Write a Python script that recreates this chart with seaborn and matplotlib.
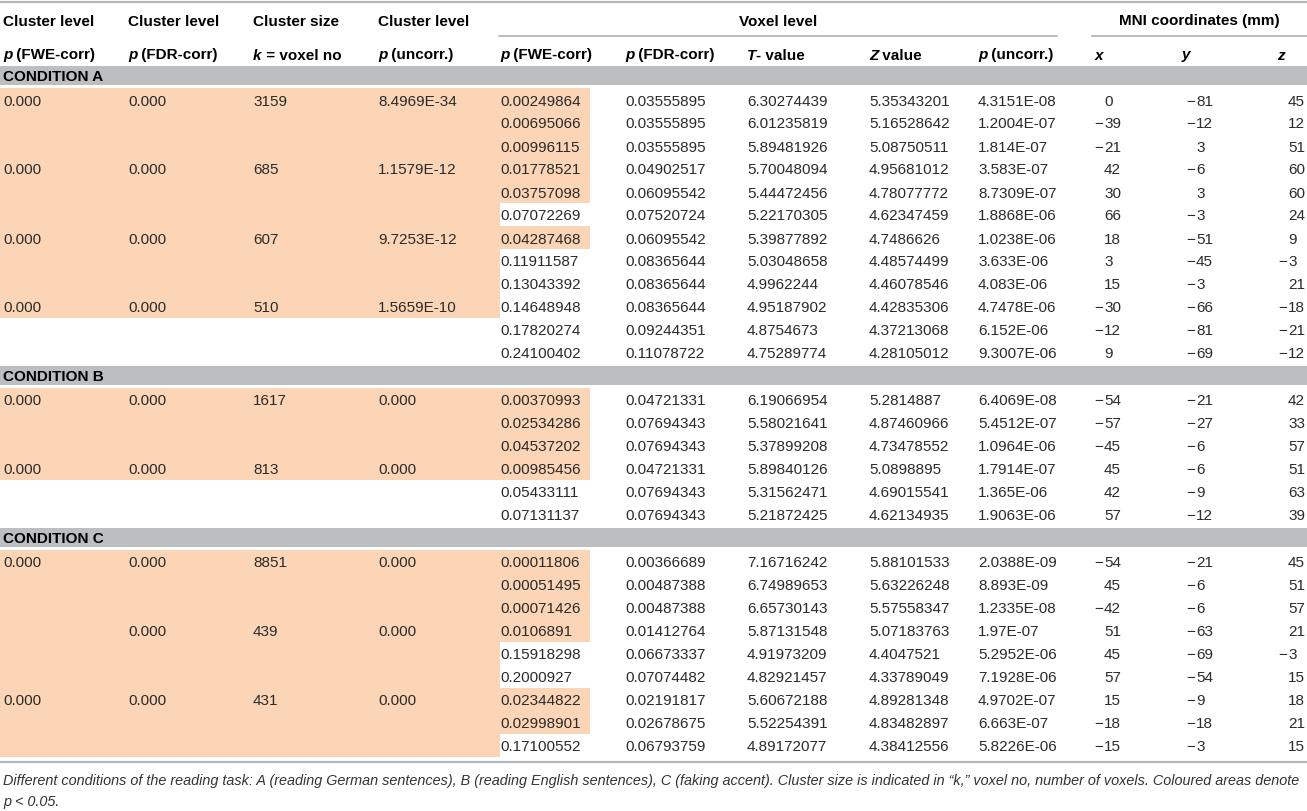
import matplotlib
matplotlib.use("Agg")
import matplotlib.pyplot as plt
from matplotlib.patches import Rectangle
import seaborn as sns

# ---------------- data ----------------
conditions = ["CONDITION A", "CONDITION B", "CONDITION C"]

# voxel level, one list per condition
fwe = [
    ["0.00249864", "0.00695066", "0.00996115", "0.01778521", "0.03757098", "0.07072269",
     "0.04287468", "0.11911587", "0.13043392", "0.14648948", "0.17820274", "0.24100402"],
    ["0.00370993", "0.02534286", "0.04537202", "0.00985456", "0.05433111", "0.07131137"],
    ["0.00011806", "0.00051495", "0.00071426", "0.0106891", "0.15918298", "0.2000927",
     "0.02344822", "0.02998901", "0.17100552"],
]
fdr = [
    ["0.03555895", "0.03555895", "0.03555895", "0.04902517", "0.06095542", "0.07520724",
     "0.06095542", "0.08365644", "0.08365644", "0.08365644", "0.09244351", "0.11078722"],
    ["0.04721331", "0.07694343", "0.07694343", "0.04721331", "0.07694343", "0.07694343"],
    ["0.00366689", "0.00487388", "0.00487388", "0.01412764", "0.06673337", "0.07074482",
     "0.02191817", "0.02678675", "0.06793759"],
]
t_val = [
    ["6.30274439", "6.01235819", "5.89481926", "5.70048094", "5.44472456", "5.22170305",
     "5.39877892", "5.03048658", "4.9962244", "4.95187902", "4.8754673", "4.75289774"],
    ["6.19066954", "5.58021641", "5.37899208", "5.89840126", "5.31562471", "5.21872425"],
    ["7.16716242", "6.74989653", "6.65730143", "5.87131548", "4.91973209", "4.82921457",
     "5.60672188", "5.52254391", "4.89172077"],
]
z_val = [
    ["5.35343201", "5.16528642", "5.08750511", "4.95681012", "4.78077772", "4.62347459",
     "4.7486626", "4.48574499", "4.46078546", "4.42835306", "4.37213068", "4.28105012"],
    ["5.2814887", "4.87460966", "4.73478552", "5.0898895", "4.69015541", "4.62134935"],
    ["5.88101533", "5.63226248", "5.57558347", "5.07183763", "4.4047521", "4.33789049",
     "4.89281348", "4.83482897", "4.38412556"],
]
p_unc = [
    ["4.3151E-08", "1.2004E-07", "1.814E-07", "3.583E-07", "8.7309E-07", "1.8868E-06",
     "1.0238E-06", "3.633E-06", "4.083E-06", "4.7478E-06", "6.152E-06", "9.3007E-06"],
    ["6.4069E-08", "5.4512E-07", "1.0964E-06", "1.7914E-07", "1.365E-06", "1.9063E-06"],
    ["2.0388E-09", "8.893E-09", "1.2335E-08", "1.97E-07", "5.2952E-06", "7.1928E-06",
     "4.9702E-07", "6.663E-07", "5.8226E-06"],
]
mni_x = [
    [0, -39, -21, 42, 30, 66, 18, 3, 15, -30, -12, 9],
    [-54, -57, -45, 45, 42, 57],
    [-54, 45, -42, 51, 45, 57, 15, -18, -15],
]
mni_y = [
    [-81, -12, 3, -6, 3, -3, -51, -45, -3, -66, -81, -69],
    [-21, -27, -6, -6, -9, -12],
    [-21, -6, -6, -63, -69, -54, -9, -18, -3],
]
mni_z = [
    [45, 12, 51, 60, 60, 24, 9, -3, 21, -18, -21, -12],
    [42, 33, 57, 51, 63, 39],
    [45, 51, 57, 21, -3, 15, 18, 21, 15],
]

# cluster level: (row, p FWE, p FDR, k, p uncorr)
clusters = [
    [(0, "0.000", "0.000", "3159", "8.4969E-34"),
     (3, "0.000", "0.000", "685", "1.1579E-12"),
     (6, "0.000", "0.000", "607", "9.7253E-12"),
     (9, "0.000", "0.000", "510", "1.5659E-10")],
    [(0, "0.000", "0.000", "1617", "0.000"),
     (3, "0.000", "0.000", "813", "0.000")],
    [(0, "0.000", "0.000", "8851", "0.000"),
     (3, "", "0.000", "439", "0.000"),
     (6, "0.000", "0.000", "431", "0.000")],
]
# number of rows whose cluster-level cells are coloured
cluster_shaded = [10, 4, 9]

header_top = ["Cluster level", "Cluster level", "Cluster size", "Cluster level"]
header_sub = [("p", " (FWE-corr)"), ("p", " (FDR-corr)"), ("k", " = voxel no"),
              ("p", " (uncorr.)"), ("p", " (FWE-corr)"), ("p", " (FDR-corr)"),
              ("T", "- value"), ("Z", " value"), ("p", " (uncorr.)"),
              ("x", ""), ("y", ""), ("z", "")]

caption = ["Different conditions of the reading task: A (reading German sentences), "
           "B (reading English sentences), C (faking accent). Cluster size is indicated "
           "in \u201ck,\u201d voxel no, number of voxels. Coloured areas denote",
           "p < 0.05."]

# ---------------- layout ----------------
W, H = 1307, 812
col_x = [3, 128, 253, 378, 500, 625, 747, 869, 978]
mni_digit_x = [1104, 1196, 1288]
row_h = 23
band_gap, band_h = 2.5, 19
first_block = 64.5
shade = "#fbd5b5"
band_col = "#bcbec0"
rule_col = "#b4b6b8"
txt_col = "#2b2b2b"
fs = 11

sns.set_theme(style="white")
plt.rcParams["font.family"] = ["Liberation Sans", "DejaVu Sans"]

fig = plt.figure(figsize=(W / 100, H / 100), dpi=100)
ax = fig.add_axes([0, 0, 1, 1])
ax.set_xlim(0, W)
ax.set_ylim(H, 0)
ax.axis("off")
renderer = fig.canvas.get_renderer()


def put(x, yc, s, **kw):
    kw.setdefault("color", txt_col)
    kw.setdefault("fontsize", fs)
    return ax.text(x, yc + 5.5, s, va="baseline", **kw)


def width_of(t):
    return t.get_window_extent(renderer).width


# header
ax.plot([0, W], [3, 3], color=rule_col, lw=1.6, solid_capstyle="butt")
for i, s in enumerate(header_top):
    put(col_x[i], 20, s, fontweight="bold", color="black")
put((499 + 1057) / 2, 20, "Voxel level", fontweight="bold", color="black", ha="center")
put((1092 + W) / 2, 20, "MNI coordinates (mm)", fontweight="bold", color="black", ha="center")
ax.plot([499, 1057], [37, 37], color=rule_col, lw=1.3)
ax.plot([1092, W], [37, 37], color=rule_col, lw=1.3)

sub_x = col_x + [1095, 1182, 1277]
for x, (it, rest) in zip(sub_x, header_sub):
    t = put(x, 54, it, fontweight="bold", fontstyle="italic", color="black")
    if rest:
        put(x + width_of(t), 54, rest, fontweight="bold", color="black")

# body
y = first_block
for c, name in enumerate(conditions):
    ax.add_patch(Rectangle((0, y + band_gap), W, band_h, color=band_col, lw=0))
    put(3, y + band_gap + band_h / 2 - 1, name, fontweight="bold", color="black")
    top = y + 2 * band_gap + band_h
    n = len(fwe[c])
    ax.add_patch(Rectangle((0, top), 500, cluster_shaded[c] * row_h, color=shade, lw=0))
    for r in range(n):
        yr = top + r * row_h
        yc = yr + row_h / 2
        if float(fwe[c][r]) < 0.05:
            ax.add_patch(Rectangle((500, yr), 90, row_h, color=shade, lw=0))
        vals = [fwe[c][r], fdr[c][r], t_val[c][r], z_val[c][r], p_unc[c][r]]
        for x, v in zip(col_x[4:], vals):
            put(x, yc, v)
        for x, v in zip(mni_digit_x, [mni_x[c][r], mni_y[c][r], mni_z[c][r]]):
            put(x, yc, str(abs(v)))
            if v < 0:
                put(x - 1, yc, "\u2212", ha="right")
    for r, *cells in clusters[c]:
        yc = top + r * row_h + row_h / 2
        for x, v in zip(col_x[:4], cells):
            put(x, yc, v)
    y = top + n * row_h

ax.plot([0, W], [763, 763], color=rule_col, lw=1.6, solid_capstyle="butt")

# caption
cap = put(3, 780, caption[0], fontstyle="italic", fontsize=10, color="#333333")
cap.set_fontsize(10 * 1299 / width_of(cap))
put(3, 801, caption[1], fontstyle="italic", fontsize=cap.get_fontsize(), color="#333333")

fig.savefig("out.png", dpi=100)
